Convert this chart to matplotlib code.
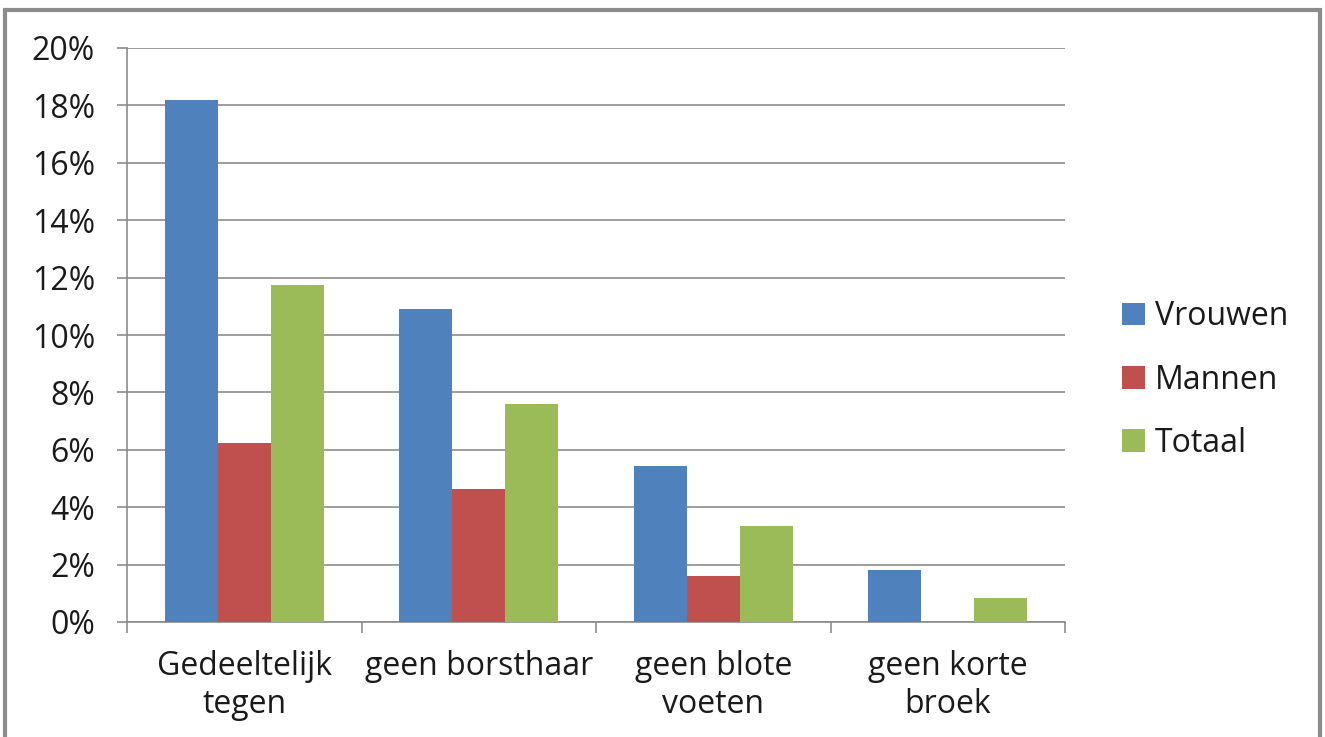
import matplotlib
matplotlib.use("Agg")
import matplotlib.pyplot as plt
import numpy as np
from matplotlib.patches import Rectangle

categories = ["Gedeeltelijk\ntegen", "geen borsthaar", "geen blote\nvoeten", "geen korte\nbroek"]
series_names = ["Vrouwen", "Mannen", "Totaal"]
vrouwen = [18.2, 10.9, 5.45, 1.8]
mannen = [6.25, 4.65, 1.6, 0.0]
totaal = [11.75, 7.6, 3.35, 0.85]
colors = ["#4F81BD", "#C0504D", "#9BBB59"]
yticks = [0, 2, 4, 6, 8, 10, 12, 14, 16, 18, 20]

plt.rcParams['font.family'] = ['Open Sans', 'DejaVu Sans']
fig = plt.figure(figsize=(13.25, 7.37), dpi=100)
ax = fig.add_axes([127/1325, 1-622/737, (1065-127)/1325, (622-48)/737])

x = np.arange(len(categories))
w = 0.226
for i, (vals, name, c) in enumerate(zip([vrouwen, mannen, totaal], series_names, colors)):
    ax.bar(x + (i-1)*w, vals, width=w, color=c, label=name, zorder=3)

fs = 23
ax.set_xlim(-0.5, len(categories)-0.5)
ax.set_ylim(0, 20)
ax.set_yticks(yticks)
ax.set_yticklabels([f"{t}%" for t in yticks], fontsize=fs, color="#1a1a1a")
ax.yaxis.grid(True, color="#8c8c8c", linewidth=1.2, zorder=0)
ax.set_xticks(x)
ax.set_xticklabels(categories, fontsize=fs, linespacing=1.2, color="#1a1a1a")
ax.set_xticks(np.arange(-0.5, len(categories), 1), minor=True)
ax.tick_params(axis='x', which='major', length=0, pad=20)
ax.tick_params(axis='x', which='minor', length=8, color="#8c8c8c", width=1.2)
ax.tick_params(axis='y', length=7, color="#8c8c8c", width=1.2, pad=16)
for s in ['top', 'right']:
    ax.spines[s].set_visible(False)
for s in ['left', 'bottom']:
    ax.spines[s].set_color("#8c8c8c")
    ax.spines[s].set_linewidth(1.2)

leg = ax.legend(loc='center left', bbox_to_anchor=(1.061, 0.4216), frameon=False, fontsize=fs,
                handlelength=0.72, handleheight=0.72, handletextpad=0.3, labelspacing=0.95,
                borderpad=0, borderaxespad=0)
for t in leg.get_texts():
    t.set_color("#1a1a1a")

border = Rectangle((5/1325, -0.2), (1320-5)/1325, 1-10/737+0.2, transform=fig.transFigure,
                   fill=False, edgecolor="#8c8c8c", linewidth=3, clip_on=False)
fig.patches.append(border)

fig.savefig("out.png", dpi=100)
